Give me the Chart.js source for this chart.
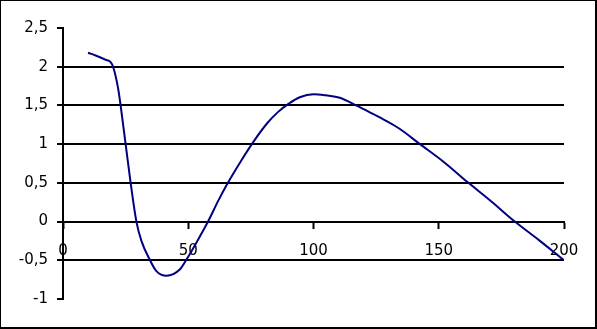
<!DOCTYPE html>
<html lang="en">
<head>
    <meta charset="UTF-8">
    <title>Curve</title>
    <script src="https://cdn.jsdelivr.net/npm/chart.js"></script>
    <style>
        body {
            margin: 0;
            background-color: white;
        }
        .wrap {
            position: relative;
            width: 597px;
            height: 329px;
        }
        .frame {
            position: absolute;
            left: 0;
            top: 0;
            width: 597px;
            height: 329px;
            box-sizing: border-box;
            border-left: 1px solid #000;
            border-top: 1px solid #000;
            border-right: 2px solid #000;
            border-bottom: 2px solid #000;
            pointer-events: none;
        }
    </style>
</head>
<body>
    <div class="wrap">
        <canvas id="curveChart" width="597" height="329"></canvas>
        <div class="frame"></div>
    </div>

    <script>
        // values
        const xValues = [10, 13, 17, 19, 20, 22, 23, 25, 27, 29.3, 31.3, 34.6, 37.3, 41.3, 46.6, 49.3, 53.3, 57.9, 62, 66,
            71, 76, 81.5, 86, 90, 94.5, 100, 105, 110.5, 117, 122.5, 129, 134.5, 142.5, 152, 161.5, 171, 180, 190, 200];
        const yValues = [2.18, 2.145, 2.09, 2.06, 2.0, 1.72, 1.5, 1.0, 0.5, 0.0, -0.25, -0.49, -0.64, -0.7, -0.62, -0.49, -0.27, 0.0, 0.27, 0.51,
            0.78, 1.03, 1.27, 1.42, 1.52, 1.606, 1.645, 1.63, 1.60, 1.50, 1.41, 1.30, 1.195, 1.0, 0.77, 0.51, 0.26, 0.01, -0.24, -0.5];
        const xTicks = [0, 50, 100, 150, 200];
        const yTicks = [-1, -0.5, 0, 0.5, 1, 1.5, 2, 2.5];

        const points = xValues.map((x, i) => ({ x: x, y: yValues[i] }));
        const font = { family: "'DejaVu Sans', sans-serif", size: 15 };

        new Chart(document.getElementById('curveChart'), {
            type: 'line',
            data: {
                datasets: [{
                    data: points,
                    borderColor: '#000080',
                    borderWidth: 2,
                    pointRadius: 0,
                    cubicInterpolationMode: 'monotone',
                    fill: false
                }]
            },
            options: {
                responsive: false,
                animation: false,
                layout: {
                    padding: { left: 0, top: 28, right: 33, bottom: 30 }
                },
                plugins: {
                    legend: { display: false },
                    tooltip: { enabled: false }
                },
                scales: {
                    x: {
                        type: 'linear',
                        position: { y: 0 },
                        min: xTicks[0],
                        max: xTicks[xTicks.length - 1],
                        afterFit: s => { s.height = 0; },
                        afterBuildTicks: s => { s.ticks = xTicks.map(v => ({ value: v })); },
                        border: { display: true, color: '#000', width: 2 },
                        grid: {
                            drawOnChartArea: false,
                            drawTicks: true,
                            tickLength: 6,
                            tickColor: '#000',
                            tickWidth: 2
                        },
                        ticks: {
                            color: '#000',
                            font: font,
                            padding: 15,
                            maxRotation: 0
                        }
                    },
                    y: {
                        min: yTicks[0],
                        max: yTicks[yTicks.length - 1],
                        afterFit: s => { s.width = 63; },
                        afterBuildTicks: s => { s.ticks = yTicks.map(v => ({ value: v })); },
                        border: { display: true, color: '#000', width: 2 },
                        grid: {
                            color: c => (c.tick && (c.tick.value === 2.5 || c.tick.value === -1)) ? 'rgba(0,0,0,0)' : '#000',
                            lineWidth: 2,
                            tickLength: 6,
                            tickColor: '#000',
                            tickWidth: 2
                        },
                        ticks: {
                            color: '#000',
                            font: font,
                            padding: 9,
                            callback: v => String(v).replace('.', ',')
                        }
                    }
                }
            }
        });
    </script>
</body>
</html>
